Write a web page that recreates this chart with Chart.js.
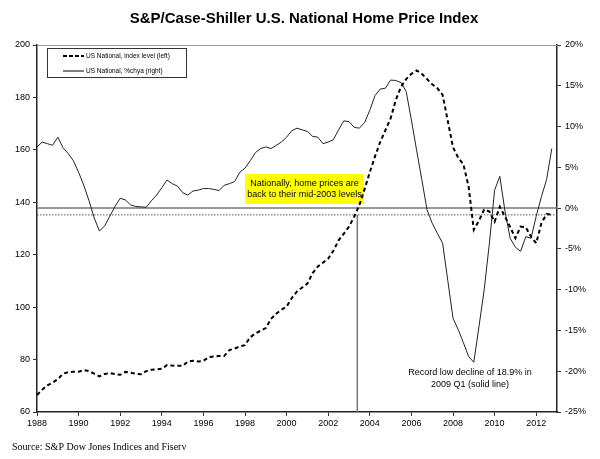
<!DOCTYPE html>
<html>
<head>
<meta charset="utf-8">
<script src="https://cdn.jsdelivr.net/npm/chart.js@4"></script>
<style>
  html, body { margin: 0; padding: 0; background: #fff; }
</style>
</head>
<body>
<canvas id="myChart" width="600" height="459"></canvas>
<script>
// quarterly data, 1988 Q1 .. 2012 Q4
const firstYear = 1988;
const indexLevel = [
  66.5, 68.5, 70.2, 71.2,  72.5, 74.6, 75.2, 75.4,  75.4, 76.0, 75.6, 74.6,
  73.6, 74.5, 74.8, 74.5,  74.2, 75.3, 75.0, 74.6,  74.4, 75.6, 76.1, 76.3,
  76.5, 77.9, 77.7, 77.6,  77.6, 79.2, 79.5, 79.3,  79.5, 80.9, 81.2, 81.4,
  81.4, 83.6, 84.2, 85.0,  85.5, 88.5, 90.0, 91.0,  92.0, 95.5, 97.5, 99.0,
  100.2, 103.5, 106.0, 107.5,  109.0, 113.0, 115.5, 117.0,  118.5, 121.5, 125.5, 128.0,
  130.7, 134.5, 139.0, 145.0,  151.5, 157.5, 163.0, 167.5,  172.0, 179.0, 184.0, 187.0,
  189.0, 190.3, 189.0, 187.0,  185.0, 183.5, 181.0, 171.0,  161.0, 157.0, 154.5, 146.0,
  129.5, 133.0, 137.3, 136.5,  132.6, 138.3, 134.5, 130.5,  126.3, 130.7, 130.5, 126.9,
  124.4, 132.0, 135.5, 135.3
];
const yoyChange = [
  7.5, 8.1, 7.9, 7.7,  8.7, 7.4, 6.7, 5.8,  4.4, 2.8, 0.9, -1.2,
  -2.8, -2.2, -1.0, 0.2,  1.2, 1.0, 0.4, 0.2,  0.15, 0.1, 0.9, 1.6,
  2.5, 3.45, 3.0, 2.7,  1.9, 1.6, 2.1, 2.2,  2.4, 2.4, 2.3, 2.15,
  2.8, 3.0, 3.25, 4.4,  4.9, 5.8, 6.8, 7.3,  7.5, 7.3, 7.7, 8.1,
  8.7, 9.5, 9.8, 9.6,  9.4, 8.8, 8.7, 7.9,  8.1, 8.4, 9.6, 10.7,
  10.6, 9.9, 9.8, 10.5,  12.0, 13.8, 14.6, 14.7,  15.7, 15.65, 15.4, 14.3,
  10.8, 7.1, 3.5, -0.2,  -1.85, -3.1, -4.3, -8.9,  -13.5, -14.9, -16.5, -18.2,
  -18.9, -14.5, -10.0, -4.3,  2.2, 3.9, -0.4, -3.7,  -4.8, -5.3, -3.5, -3.7,
  -1.0, 1.4, 3.5, 7.3
];
const quarters = indexLevel.map((v, i) => firstYear + i / 4);

const xRange = [1988, 2013];
const leftRange = [60, 200];
const rightRange = [-25, 20];
const currentLevel = 135.2;   // dotted line, left axis
const zeroPct = 0;            // solid line, right axis
const mid2003 = 2003.4;       // vertical marker

const FONT = '"Liberation Sans", Arial, sans-serif';

const extras = {
  id: 'extras',
  beforeDatasetsDraw(chart) {
    const c = chart.ctx;
    const a = chart.chartArea;
    c.save();
    // top frame line
    c.strokeStyle = '#999';
    c.lineWidth = 1;
    c.beginPath();
    c.moveTo(a.left, a.top + 0.5);
    c.lineTo(a.right, a.top + 0.5);
    c.stroke();
    // yellow note
    c.fillStyle = '#ffff00';
    c.fillRect(245, 174, 119, 30);
    c.fillStyle = '#000';
    c.font = '9px ' + FONT;
    c.textAlign = 'center';
    c.textBaseline = 'middle';
    c.fillText('Nationally, home prices are', 304.5, 183.5);
    c.fillText('back to their mid-2003 levels', 304.5, 195);
    c.restore();
  },
  afterDraw(chart) {
    const c = chart.ctx;
    c.save();
    // title
    c.fillStyle = '#000';
    c.font = 'bold 15px ' + FONT;
    c.textAlign = 'center';
    c.textBaseline = 'middle';
    c.fillText('S&P/Case-Shiller U.S. National Home Price Index', 304, 19);
    // low note
    c.font = '9px ' + FONT;
    c.fillText('Record low decline of 18.9% in', 470, 373);
    c.fillText('2009 Q1 (solid line)', 470, 385);
    // legend
    c.fillStyle = '#fff';
    c.fillRect(47, 48, 140, 30);
    c.strokeStyle = '#333';
    c.lineWidth = 1;
    c.strokeRect(47.5, 48.5, 139, 29);
    c.strokeStyle = '#000';
    c.lineWidth = 2;
    c.setLineDash([4, 2]);
    c.beginPath(); c.moveTo(63, 56); c.lineTo(84, 56); c.stroke();
    c.setLineDash([]);
    c.lineWidth = 1;
    c.beginPath(); c.moveTo(63, 71); c.lineTo(84, 71); c.stroke();
    c.fillStyle = '#000';
    c.font = '6.5px ' + FONT;
    c.textAlign = 'left';
    c.fillText('US National, index level (left)', 86, 56);
    c.fillText('US National, %chya (right)', 86, 71);
    // source
    c.font = '10px "Liberation Serif", "Times New Roman", serif';
    c.fillText('Source: S&P Dow Jones Indices and Fiserv', 12, 447);
    c.restore();
  }
};

const ctx = document.getElementById('myChart');
new Chart(ctx, {
  type: 'line',
  data: {
    datasets: [
      {
        label: 'US National, index level (left)',
        data: quarters.map((x, i) => ({ x: x, y: indexLevel[i] })),
        borderColor: '#000',
        borderWidth: 2,
        borderDash: [4, 3],
        pointRadius: 0,
        yAxisID: 'y',
        order: 1,
      },
      {
        label: 'US National, %chya (right)',
        data: quarters.map((x, i) => ({ x: x, y: yoyChange[i] })),
        borderColor: '#222',
        borderWidth: 1,
        pointRadius: 0,
        yAxisID: 'y1',
        order: 2,
      },
      {
        label: 'zero',
        data: [{ x: xRange[0], y: zeroPct }, { x: xRange[1], y: zeroPct }],
        borderColor: '#777',
        borderWidth: 1.5,
        pointRadius: 0,
        yAxisID: 'y1',
        order: 3,
      },
      {
        label: 'level',
        data: [{ x: xRange[0], y: currentLevel }, { x: xRange[1], y: currentLevel }],
        borderColor: '#555',
        borderWidth: 1,
        borderDash: [1.5, 1.5],
        pointRadius: 0,
        yAxisID: 'y',
        order: 3,
      },
      {
        label: 'marker',
        data: [{ x: mid2003, y: currentLevel }, { x: mid2003, y: leftRange[0] }],
        borderColor: '#777',
        borderWidth: 1.5,
        pointRadius: 0,
        yAxisID: 'y',
        order: 3,
      },
    ],
  },
  options: {
    responsive: false,
    animation: false,
    layout: { padding: { left: 0, right: 0, top: 45, bottom: 0 } },
    plugins: {
      legend: { display: false },
      tooltip: { enabled: false },
    },
    scales: {
      x: {
        type: 'linear',
        min: xRange[0],
        max: xRange[1],
        afterFit: (s) => { s.height = 47; },
        grid: { drawOnChartArea: false, tickLength: 4, color: '#333' },
        border: { color: '#222', width: 1.5 },
        ticks: {
          stepSize: 2,
          includeBounds: false,
          padding: 2,
          color: '#000',
          font: { family: FONT, size: 9 },
          maxRotation: 0,
          callback: (v) => String(v),
        },
      },
      y: {
        position: 'left',
        min: leftRange[0],
        max: leftRange[1],
        afterFit: (s) => { s.width = 37; },
        grid: { drawOnChartArea: false, tickLength: 4, color: '#333' },
        border: { color: '#222', width: 1.5 },
        ticks: {
          stepSize: 20,
          padding: 3,
          color: '#000',
          font: { family: FONT, size: 9 },
        },
      },
      y1: {
        position: 'right',
        min: rightRange[0],
        max: rightRange[1],
        afterFit: (s) => { s.width = 43; },
        grid: { drawOnChartArea: false, tickLength: 4, color: '#333' },
        border: { color: '#222', width: 1.5 },
        ticks: {
          stepSize: 5,
          padding: 4,
          color: '#000',
          font: { family: FONT, size: 9 },
          callback: (v) => v + '%',
        },
      },
    },
  },
  plugins: [extras],
});
</script>
</body>
</html>
